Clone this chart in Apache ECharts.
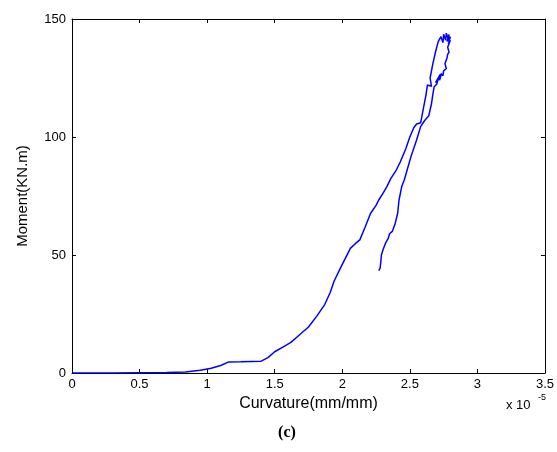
<!DOCTYPE html>
<html>
<head>
<meta charset="utf-8">
<script src="https://cdn.jsdelivr.net/npm/echarts@6/dist/echarts.min.js"></script>
<style>
  html, body { margin: 0; padding: 0; background: #fff; }
  #chart { width: 557px; height: 452px; }
</style>
</head>
<body>
<div id="chart"></div>
<script>
// curvature in units of 1e-5 mm/mm, moment in KN.m
const curvature = [
  0, 0.3, 0.5, 0.7, 0.84, 0.95, 1.03, 1.1, 1.16, 1.25, 1.40, 1.45, 1.50, 1.56, 1.62, 1.68,
  1.75, 1.81, 1.87, 1.91, 1.94, 2.0, 2.06, 2.10, 2.13, 2.17, 2.21, 2.25, 2.27, 2.30, 2.33,
  2.36, 2.40, 2.43, 2.47, 2.50, 2.53, 2.55, 2.58, 2.60, 2.62, 2.63, 2.66, 2.65, 2.67, 2.69,
  2.71, 2.73, 2.745, 2.75, 2.765, 2.77, 2.785, 2.79, 2.775, 2.80, 2.785, 2.80, 2.78, 2.79,
  2.78, 2.775, 2.76, 2.77, 2.75, 2.745, 2.73, 2.72, 2.735, 2.70, 2.725, 2.69, 2.715, 2.70,
  2.69, 2.68, 2.67, 2.66, 2.64, 2.61, 2.58, 2.55, 2.51, 2.48, 2.46, 2.44, 2.42,
  2.41, 2.39, 2.37, 2.35, 2.34, 2.32, 2.30, 2.29, 2.285, 2.28, 2.27
];
const moment = [
  0, 0, 0.1, 0.2, 0.4, 1.2, 2.0, 3.2, 4.7, 4.8, 5.0, 6.5, 9.0, 11.0, 13.0, 16.0,
  19.5, 24.0, 29.0, 34.0, 39.0, 46.0, 52.8, 55.0, 56.4, 62.0, 67.7, 71.0, 73.3, 76.0, 79.0,
  82.5, 86.0, 89.5, 95.0, 100.0, 104.0, 105.5, 106.0, 112.0, 118.0, 122.0, 121.5, 125.0, 131.0, 136.0,
  140.4, 142.5, 140.0, 143.5, 141.0, 144.0, 141.5, 143.5, 140.5, 142.5, 139.5, 141.0, 138.0, 136.0,
  135.0, 133.5, 131.0, 129.0, 128.0, 126.0, 126.5, 124.0, 127.0, 123.5, 126.5, 123.0, 125.5, 122.5,
  122.0, 121.3, 118.0, 114.0, 109.0, 107.0, 104.4, 98.7, 92.0, 86.0, 82.0, 79.0, 73.3,
  67.7, 63.0, 60.0, 59.0, 57.0, 55.0, 52.0, 50.0, 47.0, 44.4, 43.4
];
const xTicks = { min: 0, max: 3.5, step: 0.5 };
const yTicks = { min: 0, max: 150, step: 50 };

const points = curvature.map((c, i) => [c, moment[i]]);
const font = 'Liberation Sans, Arial, sans-serif';

const chart = echarts.init(document.getElementById('chart'), null, { renderer: 'canvas' });

const boxAxis = {
  axisLine: { show: true, onZero: false, lineStyle: { color: '#000', width: 1 } },
  axisTick: { show: true, inside: true, length: 4, lineStyle: { color: '#000' } },
  splitLine: { show: false }
};

chart.setOption({
  animation: false,
  backgroundColor: '#fff',
  grid: { left: 72, right: 8, top: 19, bottom: 79 },
  xAxis: [
    Object.assign({
      type: 'value', position: 'bottom',
      min: xTicks.min, max: xTicks.max, interval: xTicks.step,
      axisLabel: { color: '#000', fontSize: 13, fontFamily: font, margin: 5 },
      name: 'Curvature(mm/mm)', nameLocation: 'middle', nameGap: 18,
      nameTextStyle: { color: '#000', fontSize: 16, fontFamily: font }
    }, boxAxis),
    Object.assign({
      type: 'value', position: 'top',
      min: xTicks.min, max: xTicks.max, interval: xTicks.step,
      axisLabel: { show: false }
    }, boxAxis)
  ],
  yAxis: [
    Object.assign({
      type: 'value', position: 'left',
      min: yTicks.min, max: yTicks.max, interval: yTicks.step,
      axisLabel: { color: '#000', fontSize: 13, fontFamily: font, margin: 6 },
      name: 'Moment(KN.m)', nameLocation: 'middle', nameGap: 42,
      nameTextStyle: { color: '#000', fontSize: 15, fontFamily: font }
    }, boxAxis),
    Object.assign({
      type: 'value', position: 'right',
      min: yTicks.min, max: yTicks.max, interval: yTicks.step,
      axisLabel: { show: false }
    }, boxAxis)
  ],
  series: [{
    type: 'line',
    data: points,
    showSymbol: false,
    lineStyle: { color: '#0000ff', width: 1.5 },
    xAxisIndex: 0,
    yAxisIndex: 0
  }],
  graphic: [
    { type: 'text', x: 506, y: 405, style: { text: 'x 10', fill: '#000', fontSize: 13, fontFamily: font, verticalAlign: 'middle' } },
    { type: 'text', x: 538, y: 398, style: { text: '-5', fill: '#000', fontSize: 9, fontFamily: font, verticalAlign: 'middle' } },
    { type: 'text', x: 287, y: 433, style: { text: '(c)', fill: '#000', fontSize: 16, fontWeight: 'bold', fontFamily: 'Liberation Serif, serif', align: 'center', verticalAlign: 'middle' } }
  ]
});
</script>
</body>
</html>
